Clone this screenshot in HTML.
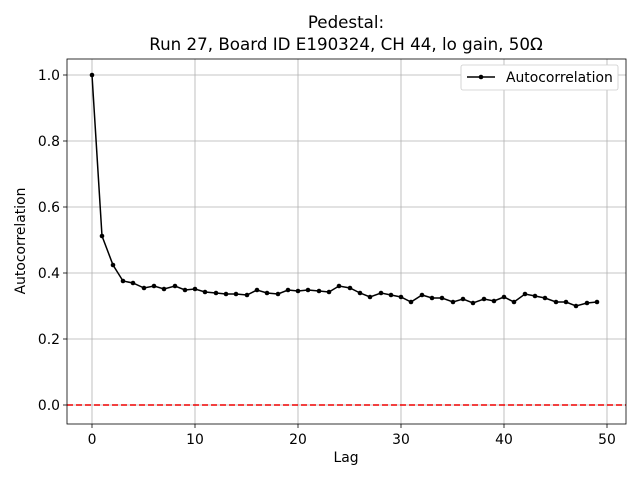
<!DOCTYPE html>
<html><head><meta charset="utf-8"><style>body{margin:0;background:#fff}svg{display:block}</style></head><body>
<svg width="640" height="480" xmlns="http://www.w3.org/2000/svg" font-family="DejaVu Sans, Liberation Sans, sans-serif">
<rect width="640" height="480" fill="#fff"/>
<g stroke="#b0b0b0" stroke-width="0.8">
<line x1="92" y1="59" x2="92" y2="424"/><line x1="195" y1="59" x2="195" y2="424"/><line x1="298" y1="59" x2="298" y2="424"/><line x1="401" y1="59" x2="401" y2="424"/><line x1="504" y1="59" x2="504" y2="424"/><line x1="607" y1="59" x2="607" y2="424"/>
<line x1="67" y1="405" x2="626" y2="405"/><line x1="67" y1="339" x2="626" y2="339"/><line x1="67" y1="273" x2="626" y2="273"/><line x1="67" y1="207" x2="626" y2="207"/><line x1="67" y1="141" x2="626" y2="141"/><line x1="67" y1="75" x2="626" y2="75"/>
</g>
<line x1="67" y1="405" x2="626" y2="405" stroke="#e00" stroke-width="1.5" stroke-dasharray="6,3"/>
<polyline fill="none" stroke="#000" stroke-width="1.5" points="92,75 102,236 113,265 123,281 133,283 144,288 154,286 164,289 175,286 185,290 195,289 205,292 216,293 226,294 236,294 247,295 257,290 267,293 278,294 288,290 298,291 308,290 319,291 329,292 339,286 350,288 360,293 370,297 381,293 391,295 401,297 411,302 422,295 432,298 442,298 453,302 463,299 473,303 484,299 494,301 504,297 514,302 525,294 535,296 545,298 556,302 566,302 576,306 587,303 597,302"/>
<g fill="#000">
<circle cx="92" cy="75" r="2.3"/><circle cx="102" cy="236" r="2.3"/><circle cx="113" cy="265" r="2.3"/><circle cx="123" cy="281" r="2.3"/><circle cx="133" cy="283" r="2.3"/><circle cx="144" cy="288" r="2.3"/><circle cx="154" cy="286" r="2.3"/><circle cx="164" cy="289" r="2.3"/><circle cx="175" cy="286" r="2.3"/><circle cx="185" cy="290" r="2.3"/><circle cx="195" cy="289" r="2.3"/><circle cx="205" cy="292" r="2.3"/><circle cx="216" cy="293" r="2.3"/><circle cx="226" cy="294" r="2.3"/><circle cx="236" cy="294" r="2.3"/><circle cx="247" cy="295" r="2.3"/><circle cx="257" cy="290" r="2.3"/><circle cx="267" cy="293" r="2.3"/><circle cx="278" cy="294" r="2.3"/><circle cx="288" cy="290" r="2.3"/><circle cx="298" cy="291" r="2.3"/><circle cx="308" cy="290" r="2.3"/><circle cx="319" cy="291" r="2.3"/><circle cx="329" cy="292" r="2.3"/><circle cx="339" cy="286" r="2.3"/><circle cx="350" cy="288" r="2.3"/><circle cx="360" cy="293" r="2.3"/><circle cx="370" cy="297" r="2.3"/><circle cx="381" cy="293" r="2.3"/><circle cx="391" cy="295" r="2.3"/><circle cx="401" cy="297" r="2.3"/><circle cx="411" cy="302" r="2.3"/><circle cx="422" cy="295" r="2.3"/><circle cx="432" cy="298" r="2.3"/><circle cx="442" cy="298" r="2.3"/><circle cx="453" cy="302" r="2.3"/><circle cx="463" cy="299" r="2.3"/><circle cx="473" cy="303" r="2.3"/><circle cx="484" cy="299" r="2.3"/><circle cx="494" cy="301" r="2.3"/><circle cx="504" cy="297" r="2.3"/><circle cx="514" cy="302" r="2.3"/><circle cx="525" cy="294" r="2.3"/><circle cx="535" cy="296" r="2.3"/><circle cx="545" cy="298" r="2.3"/><circle cx="556" cy="302" r="2.3"/><circle cx="566" cy="302" r="2.3"/><circle cx="576" cy="306" r="2.3"/><circle cx="587" cy="303" r="2.3"/><circle cx="597" cy="302" r="2.3"/>
</g>
<rect x="67" y="59" width="559" height="365" fill="none" stroke="#000" stroke-width="0.8"/>
<g stroke="#000" stroke-width="0.8">
<line x1="92" y1="424" x2="92" y2="428"/><line x1="195" y1="424" x2="195" y2="428"/><line x1="298" y1="424" x2="298" y2="428"/><line x1="401" y1="424" x2="401" y2="428"/><line x1="504" y1="424" x2="504" y2="428"/><line x1="607" y1="424" x2="607" y2="428"/>
<line x1="63" y1="405" x2="67" y2="405"/><line x1="63" y1="339" x2="67" y2="339"/><line x1="63" y1="273" x2="67" y2="273"/><line x1="63" y1="207" x2="67" y2="207"/><line x1="63" y1="141" x2="67" y2="141"/><line x1="63" y1="75" x2="67" y2="75"/>
</g>
<g font-size="13.9" fill="#000" text-anchor="middle">
<text x="92" y="444">0</text><text x="195" y="444">10</text><text x="298" y="444">20</text><text x="401" y="444">30</text><text x="504" y="444">40</text><text x="607" y="444">50</text>
</g>
<g font-size="13.9" fill="#000" text-anchor="end">
<text x="60" y="410">0.0</text><text x="60" y="344">0.2</text><text x="60" y="278">0.4</text><text x="60" y="212">0.6</text><text x="60" y="146">0.8</text><text x="60" y="80">1.0</text>
</g>
<text x="346" y="462" font-size="13.9" text-anchor="middle">Lag</text>
<text transform="translate(25,241) rotate(-90)" font-size="13.9" text-anchor="middle">Autocorrelation</text>
<text x="346" y="28" font-size="16.7" text-anchor="middle">Pedestal:</text>
<text x="346" y="50" font-size="16.7" text-anchor="middle">Run 27, Board ID E190324, CH 44, lo gain, 50Ω</text>
<rect x="461" y="65" width="157" height="25" rx="2" fill="#fff" stroke="#ccc" stroke-width="0.8"/>
<line x1="467" y1="77" x2="495" y2="77" stroke="#000" stroke-width="1.5"/>
<circle cx="481" cy="77" r="2.3"/>
<text x="506" y="82" font-size="13.9">Autocorrelation</text>
</svg>
</body></html>
